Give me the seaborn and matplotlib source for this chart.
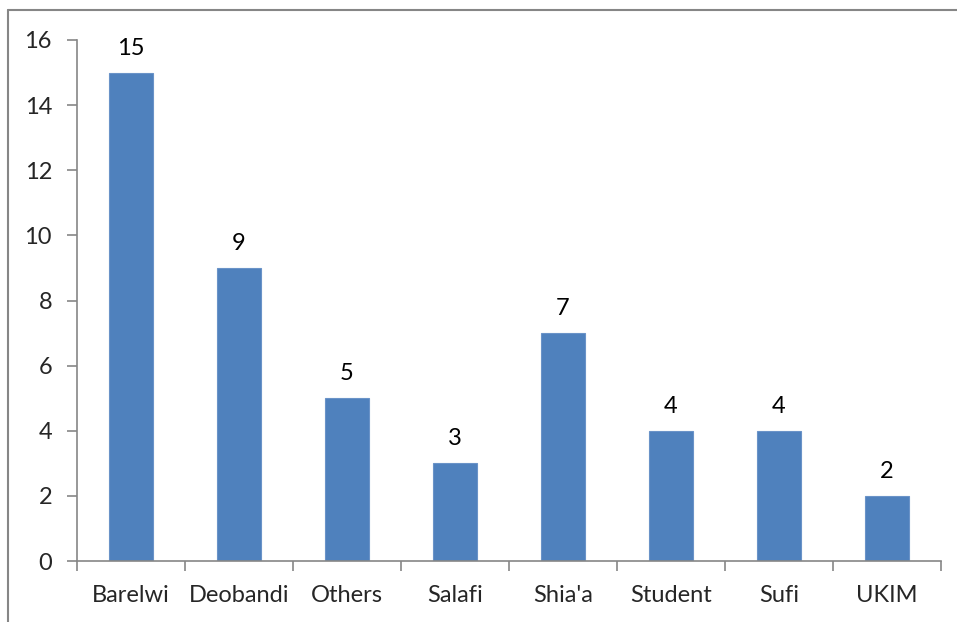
import matplotlib
matplotlib.use("Agg")
import matplotlib.pyplot as plt
import seaborn as sns
import pandas as pd
from matplotlib.lines import Line2D
from matplotlib.ticker import FixedLocator

categorias = ["Barelwi", "Deobandi", "Others", "Salafi", "Shia'a", "Student", "Sufi", "UKIM"]
valores = [15, 9, 5, 3, 7, 4, 4, 2]
ticks_y = [0, 2, 4, 6, 8, 10, 12, 14, 16]

sns.set_style("white")
plt.rcParams["font.family"] = ["Lato", "DejaVu Sans"]

df = pd.DataFrame({"grupo": categorias, "n": valores})

fig = plt.figure(figsize=(9.57, 6.22), dpi=100)
ax = fig.add_axes([77 / 957, (622 - 561) / 622, (941 - 77) / 957, (561 - 40) / 622])

sns.barplot(data=df, x="grupo", y="n", color="#4F81BD", width=0.4,
            edgecolor="#6A93C8", linewidth=0.8, saturation=1, ax=ax)

for cont in ax.containers:
    ax.bar_label(cont, padding=10, fontsize=17, color="black")

gris = "#868686"
ax.set_xlim(-0.5, len(categorias) - 0.5)
ax.set_ylim(0, 16)
ax.set_yticks(ticks_y)
ax.set_yticklabels([str(t) for t in ticks_y], fontsize=17)
ax.set_xlabel("")
ax.set_ylabel("")
ax.tick_params(axis="x", which="major", length=0, labelsize=17, pad=17)
ax.xaxis.set_minor_locator(FixedLocator([i - 0.5 for i in range(len(categorias) + 1)]))
ax.tick_params(axis="x", which="minor", bottom=True, length=7, width=1.2, color=gris, direction="out")
ax.tick_params(axis="y", left=True, length=7, width=1.2, color=gris, direction="out", pad=11)

for lado in ["top", "right"]:
    ax.spines[lado].set_visible(False)
for lado in ["left", "bottom"]:
    ax.spines[lado].set_color(gris)
    ax.spines[lado].set_linewidth(1.2)

# marco exterior (solo arriba e izquierda visibles)
fig.add_artist(Line2D([8 / 957, 8 / 957], [0, 1 - 10 / 622], color=gris, linewidth=1.5,
                      transform=fig.transFigure))
fig.add_artist(Line2D([8 / 957, 1], [1 - 10 / 622, 1 - 10 / 622], color=gris, linewidth=1.5,
                      transform=fig.transFigure))

fig.savefig("out.png", dpi=100)
